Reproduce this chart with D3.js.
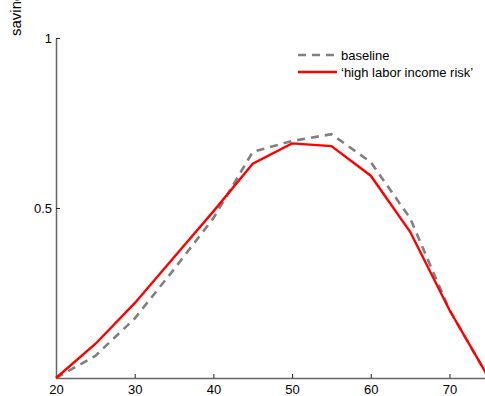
<!DOCTYPE html>
<html>
<head>
<meta charset="utf-8">
<script src="https://cdn.jsdelivr.net/npm/d3@7"></script>
<style>
  html, body { margin: 0; padding: 0; background: #fff; overflow: hidden; }
  text { font-family: "Liberation Sans", Arial, Helvetica, sans-serif; }
</style>
</head>
<body>
<svg id="chart" width="485" height="396"></svg>
<script>
// Savings profile by age
const ages = [20, 25, 30, 35, 40, 45, 50, 55, 60, 65, 70, 75];
const baseline = [0, 0.065, 0.175, 0.32, 0.47, 0.665, 0.697, 0.717, 0.635, 0.47, 0.2, 0];
const highRisk = [0, 0.1, 0.22, 0.355, 0.49, 0.63, 0.69, 0.682, 0.595, 0.43, 0.2, 0];
const xTicks = [20, 30, 40, 50, 60, 70];
const yTicks = [0.5, 1];
const yTickLabels = ["0.5", "1"];
const seriesNames = ["baseline", "\u2018high labor income risk\u2019"];

const svg = d3.select("#chart");
const x = d3.scaleLinear().domain([20, 75]).range([56, 488.8]);
const y = d3.scaleLinear().domain([0, 1]).range([378, 38]);

const axisColor = "#666";

// x axis (ticks point into the plot)
const xAxis = svg.append("g").attr("transform", `translate(0,${y(0)})`)
  .call(d3.axisBottom(x).tickValues(xTicks).tickSizeInner(-4).tickSizeOuter(0).tickPadding(7));
// y axis
const yAxis = svg.append("g").attr("transform", `translate(${x(20)},0)`)
  .call(d3.axisLeft(y).tickValues(yTicks).tickFormat((d, i) => yTickLabels[i])
    .tickSizeInner(-4).tickSizeOuter(0).tickPadding(4));

[xAxis, yAxis].forEach(g => {
  g.select(".domain").attr("stroke", axisColor).attr("stroke-width", 1.5);
  g.selectAll(".tick line").attr("stroke", "#222").attr("stroke-width", 1);
  g.selectAll(".tick text").attr("fill", "#000").style("font-size", "13px")
    .style("font-family", "'Liberation Sans', Arial, sans-serif");
});

// y axis title (rotated)
svg.append("text")
  .attr("transform", "translate(21,36) rotate(-90)")
  .attr("text-anchor", "start")
  .style("font-size", "15px")
  .text("savings");

const line = d3.line().x((d, i) => x(ages[i])).y(d => y(d));

svg.append("path").datum(baseline)
  .attr("d", line).attr("fill", "none")
  .attr("stroke", "#808080").attr("stroke-width", 2.6)
  .attr("stroke-dasharray", "8,6");

svg.append("path").datum(highRisk)
  .attr("d", line).attr("fill", "none")
  .attr("stroke", "#ff0000").attr("stroke-width", 2.4);

// legend
const legend = svg.append("g");
const legendItems = [
  { name: seriesNames[0], color: "#808080", dash: "8,6", yPos: 55 },
  { name: seriesNames[1], color: "#ff0000", dash: null, yPos: 72 }
];
legendItems.forEach(it => {
  legend.append("line")
    .attr("x1", 298).attr("x2", 337).attr("y1", it.yPos).attr("y2", it.yPos)
    .attr("stroke", it.color).attr("stroke-width", 2.5)
    .attr("stroke-dasharray", it.dash);
  legend.append("text")
    .attr("x", 341).attr("y", it.yPos + 4.5)
    .style("font-size", "13px")
    .text(it.name);
});
</script>
</body>
</html>
